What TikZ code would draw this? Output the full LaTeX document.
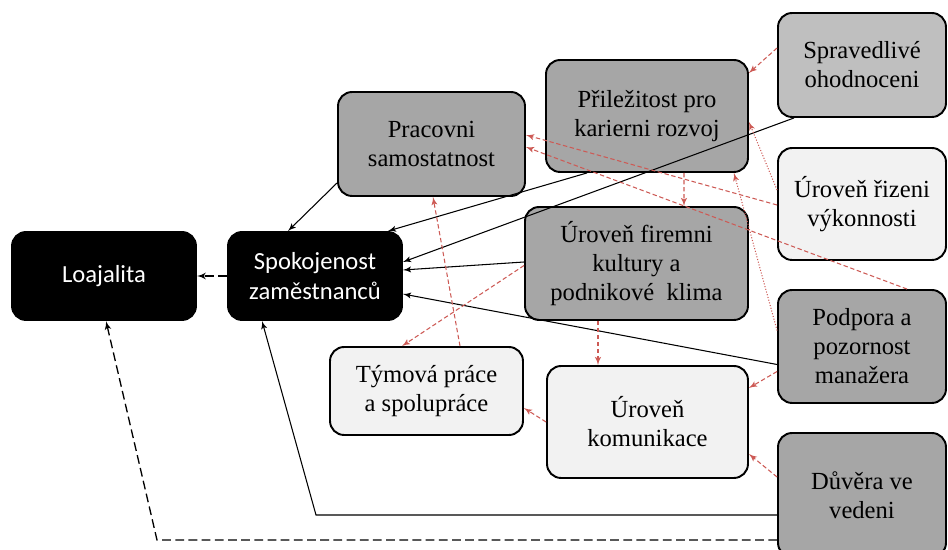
\documentclass[tikz,border=0pt]{standalone}
\usepackage{fontspec}
\setmainfont{Liberation Serif}
\newfontfamily\calibri{Carlito}
\usetikzlibrary{shapes,arrows,calc}
\definecolor{boxgray}{RGB}{166,166,166}
\definecolor{boxsilver}{RGB}{191,191,191}
\definecolor{boxlight}{RGB}{242,242,242}
\definecolor{linkred}{RGB}{205,90,85}

\tikzset{
	box/.style={draw, line width=1.1pt, rounded corners=8pt, align=center,
		font=\fontsize{14}{16.5}\selectfont},
	graybox/.style={box, fill=boxgray},
	silverbox/.style={box, fill=boxsilver},
	lightbox/.style={box, fill=boxlight},
	blackbox/.style={box, fill=black, text=white, font=\calibri\fontsize{14}{17}\selectfont},
	blacklink/.style={-latex', line width=0.6pt},
	loyallink/.style={-latex', line width=0.75pt, dash pattern=on 5pt off 2.5pt},
	redlink/.style={-latex', linkred, dash pattern=on 2.5pt off 1.5pt, line width=0.6pt},
}

\begin{document}
\begin{tikzpicture}[x=0.02cm, y=-0.02cm]
		\useasboundingbox (0,0) rectangle (948,550);
		% outcome
		\node[blackbox, minimum width=3.68cm, minimum height=1.76cm] (loaj) at (104,276) {Loajalita};
		\node[blackbox, minimum width=3.48cm, minimum height=1.76cm] (spok) at (315,276) {Spokojenost\\zaměstnanců};
		
		%% middle factors
		\node[graybox, minimum width=3.74cm, minimum height=2.08cm] (prac) at (431.5,144) {Pracovni\\samostatnost};
		\node[graybox, minimum width=4.04cm, minimum height=2.24cm] (prilez) at (647,116) {Přiležitost pro\\karierni rozvoj};
		\node[graybox, minimum width=4.46cm, minimum height=2.26cm] (kultura) at (636.5,263.5) {Úroveň firemni\\kultury a\\podnikové\ \ klima};
		\node[lightbox, minimum width=3.86cm, minimum height=1.76cm] (tym) at (426.5,391) {Týmová práce\\a spolupráce};
		\node[lightbox, minimum width=4.02cm, minimum height=2.24cm] (komun) at (647.5,422) {Úroveň\\komunikace};
		
		%% right column
		\node[silverbox, minimum width=3.36cm, minimum height=2.08cm] (sprav) at (862,65) {Spravedlivé\\ohodnoceni};
		\node[lightbox, minimum width=3.36cm, minimum height=2.24cm] (rizeni) at (862,204) {Úroveň řizeni\\výkonnosti};
		\node[graybox, minimum width=3.36cm, minimum height=2.26cm] (podpora) at (862,346.5) {Podpora a\\pozornost\\manažera};
		\node[graybox, minimum width=3.36cm, minimum height=2.48cm] (duvera) at (862,495) {Důvěra ve\\vedeni};
		
		% black links into spokojenost
		\draw[blacklink] ($(prac.south west)+(0,-14)$) -- ($(spok.north)+(-27,0)$);
		\draw[blacklink] ($(prilez.south)+(-60,0)$) -- ($(spok.north east)+(-15,0)$);
		\draw[blacklink] ($(sprav.south west)+(17,0)$) -- ($(spok.east)+(0,-14)$);
		\draw[blacklink] ($(kultura.west)+(0,-1.5)$) -- ($(spok.east)+(0,-6)$);
		\draw[blacklink] ($(podpora.west)+(0,18)$) -- ($(spok.east)+(0,18)$);
		\coordinate (dvcorner) at (316,515);
		\draw[blacklink] ($(duvera.west)+(0,20)$) -- (dvcorner) -- ($(spok.south)+(-53,0)$);
		
		% dashed links into loajalita
		\draw[loyallink] (spok.west) -- (loaj.east);
		\coordinate (lycorner) at (157,540);
		\draw[loyallink] ($(duvera.west)+(0,45)$) -- (lycorner) -- ($(loaj.south)+(2,0)$);
		
		%% red links
		\draw[redlink] ($(sprav.west)+(0,-17)$) -- ($(prilez.north east)+(0,14)$);
		\draw[redlink] ($(prilez.south)+(37,0)$) -- ($(kultura.north)+(47.5,0)$);
		\draw[redlink] ($(rizeni.west)+(0,1)$) -- ($(prac.east)+(0,-9)$);
		\draw[redlink] ($(podpora.north)+(45,0)$) -- ($(prac.east)+(0,3)$);
		\draw[redlink, densely dotted] ($(rizeni.west)+(0,-14)$) -- ($(prilez.east)+(0,6)$);
		\draw[redlink, densely dotted] ($(podpora.west)+(0,-16)$) -- ($(prilez.south east)+(-15,0)$);
		\draw[redlink] ($(podpora.west)+(0,25)$) -- ($(komun.east)+(0,-34)$);
		\draw[redlink] ($(duvera.west)+(0,-18)$) -- ($(komun.east)+(0,32)$);
		\draw[redlink] (komun.west) -- ($(tym.east)+(0,17)$);
		\draw[redlink] ($(kultura.south)+(-38.5,0)$) -- ($(komun.north)+(-49.5,0)$);
		\draw[redlink] ($(kultura.west)+(0,2)$) -- ($(tym.north west)+(73,0)$);
		\draw[redlink] ($(tym.north)+(33.5,0)$) -- ($(prac.south)+(1.5,0)$);
\end{tikzpicture}
\end{document}
